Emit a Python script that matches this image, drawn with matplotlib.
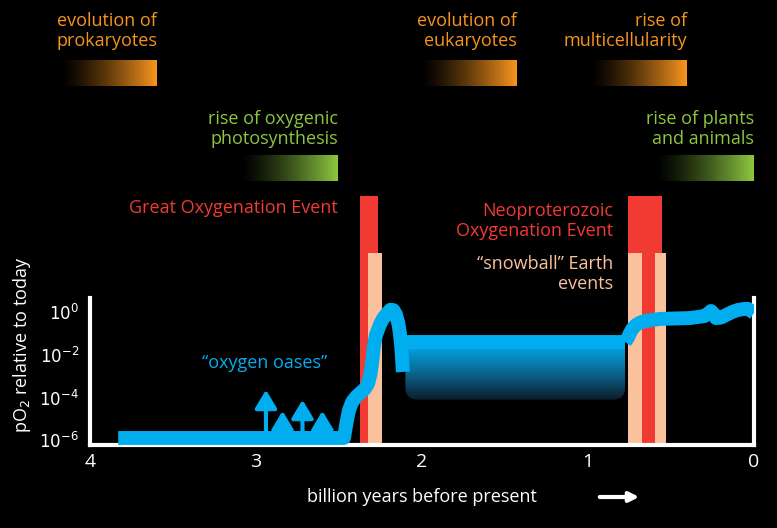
import numpy as np
import matplotlib.pyplot as plt
from matplotlib.colors import LinearSegmentedColormap
from matplotlib.patches import Rectangle, FancyBboxPatch

plt.rcParams["font.family"] = ["Open Sans", "DejaVu Sans"]

BLUE = "#00AEEF"
RED = "#F13A31"
PEACH = "#F9C29C"
ORANGE = "#F7941D"
GREEN = "#8CC63F"

# pO2 curve (billion years ago, log10 pO2 relative to today)
early_x = [3.83, 2.470, 2.455, 2.440, 2.420, 2.395, 2.373, 2.345, 2.325, 2.310, 2.300,
           2.290, 2.277, 2.255, 2.235, 2.210, 2.190, 2.172, 2.157, 2.143, 2.133, 2.125, 2.120, 2.115]
early_y = [-5.9, -5.9, -5.2, -4.6, -4.2, -3.95, -3.80, -3.60, -3.35, -2.90, -2.30,
           -1.60, -1.07, -0.60, -0.30, -0.05, 0.12, 0.10, -0.10, -0.50, -1.00, -1.60, -2.20, -2.80]
plateau_x = [2.10, 0.777]
plateau_top = -1.39
plateau_bottom = -4.1
late_x = [0.777, 0.760, 0.747, 0.730, 0.711, 0.685, 0.657, 0.566, 0.386, 0.300, 0.275, 0.259, 0.245, 0.229, 0.200, 0.169, 0.130, 0.096, 0.060, 0.036, 0.0]
late_y = [-1.39, -1.20, -0.97, -0.75, -0.60, -0.48, -0.41, -0.31, -0.27, -0.18, -0.05, 0.06, -0.05, -0.27, -0.25, -0.13, 0.02, 0.11, 0.16, 0.16, -0.03]
oases_x = [2.94, 2.84, 2.72, 2.60]
oases_top = [-3.51, -4.50, -3.98, -4.50]

# event bands: (start, end, top)
goe_red = (2.373, 2.265, 5.46)
goe_peach = (2.325, 2.241, 2.78)
noe_red = (0.759, 0.554, 5.46)
noe_peach = [(0.759, 0.675, 2.78), (0.596, 0.530, 2.78)]

y_ticks = [0, -2, -4, -6]
x_ticks = [4, 3, 2, 1, 0]

W, H = 777, 528
fig = plt.figure(figsize=(W / 100, H / 100), dpi=100, facecolor="black")

ybot = -6.23
ytop = ybot + 445 / 21.3
ax = fig.add_axes([90 / W, (H - 445) / H, (754 - 90) / W, 445 / H])
ax.set_facecolor("black")
ax.spines["top"].set_visible(False)
for s in ["left", "right", "bottom"]:
    ax.spines[s].set_color("white")
    ax.spines[s].set_linewidth(3)
ax.spines["left"].set_bounds(ybot, 0.65)
ax.spines["right"].set_bounds(ybot, 0.65)
ax.set_yticks(y_ticks)
ax.set_yticklabels([f"$10^{{{t}}}$" for t in y_ticks], color="white", fontsize=12)
ax.set_xticks(x_ticks)
ax.set_xticklabels([str(t) for t in x_ticks], color="white", fontsize=14)
ax.tick_params(length=0, pad=6)
ax.tick_params(axis="y", pad=8)

def band(x0, x1, top, color):
    ax.add_patch(Rectangle((min(x0, x1), ybot), abs(x1 - x0), top - ybot,
                           color=color, clip_on=False, zorder=1, lw=0))

band(*goe_red, RED)
band(*goe_peach, PEACH)
band(*noe_red, RED)
for b in noe_peach:
    band(*b, PEACH)

# plateau gradient box
cmap_box = LinearSegmentedColormap.from_list("box", ["#0b1c2a", "#0a6a95", BLUE])
grad = np.linspace(0, 1, 200).reshape(-1, 1)
im = ax.imshow(grad, cmap=cmap_box, aspect="auto", origin="lower",
               extent=[plateau_x[0], plateau_x[1], plateau_bottom, plateau_top], zorder=2)
clip = FancyBboxPatch((plateau_x[1], plateau_bottom), plateau_x[0] - plateau_x[1],
                      plateau_top - plateau_bottom + 0.6,
                      boxstyle="round,pad=0,rounding_size=0.07", mutation_aspect=7.8,
                      transform=ax.transData, facecolor="none", edgecolor="none")
ax.add_patch(clip)
im.set_clip_path(clip)

lw = 10
kw = dict(color=BLUE, lw=lw, solid_capstyle="butt", solid_joinstyle="round", zorder=3)
ax.plot(early_x, early_y, **kw)
ax.plot(plateau_x, [plateau_top] * 2, **kw)
ax.plot(late_x, late_y, **kw)
ax.set_xlim(4, 0)
ax.set_ylim(ybot, ytop)

for x, t in zip(oases_x, oases_top):
    ax.annotate("", xy=(x, t), xytext=(x, -5.9),
                arrowprops=dict(arrowstyle="-|>,head_length=0.5,head_width=0.3",
                                color=BLUE, lw=3, mutation_scale=22), zorder=3)

# overlay for labels in pixel coordinates
ov = fig.add_axes([0, 0, 1, 1])
ov.axis("off")
ov.patch.set_alpha(0)

def gbar(x0, x1, y0, y1, color):
    cm = LinearSegmentedColormap.from_list("g", ["black", color])
    g = np.linspace(0, 1, 100).reshape(1, -1) ** 1.3
    ov.imshow(g, cmap=cm, aspect="auto", extent=[x0, x1, y1, y0])

def label(x, y, s, color):
    ov.text(x, y, s, color=color, ha="right", va="center", fontsize=13, linespacing=1.1)

gbar(60, 157, 60, 86, ORANGE)
gbar(420, 517, 60, 86, ORANGE)
gbar(590, 687, 60, 86, ORANGE)
gbar(240, 338, 155, 181, GREEN)
gbar(655, 754, 155, 181, GREEN)
ov.set_xlim(0, W)
ov.set_ylim(H, 0)

label(157, 31, "evolution of\nprokaryotes", ORANGE)
label(517, 31, "evolution of\neukaryotes", ORANGE)
label(687, 31, "rise of\nmulticellularity", ORANGE)
label(338, 129, "rise of oxygenic\nphotosynthesis", GREEN)
label(754, 129, "rise of plants\nand animals", GREEN)
label(338, 208, "Great Oxygenation Event", RED)
label(613, 221, "Neoproterozoic\nOxygenation Event", RED)
label(613, 274, "\u201csnowball\u201d Earth\nevents", PEACH)
ov.text(265, 363, "\u201coxygen oases\u201d", color=BLUE, ha="center", va="center", fontsize=13)
ov.text(22, 345, "pO$_2$ relative to today", color="white", rotation=90, ha="center",
        va="center", fontsize=13)
ov.text(422, 497, "billion years before present", color="white", ha="center", va="center", fontsize=13)
ov.annotate("", xy=(642, 497), xytext=(597, 497),
            arrowprops=dict(arrowstyle="-|>", color="white", lw=3, mutation_scale=14))

fig.savefig("out.png", dpi=100, facecolor="black")
